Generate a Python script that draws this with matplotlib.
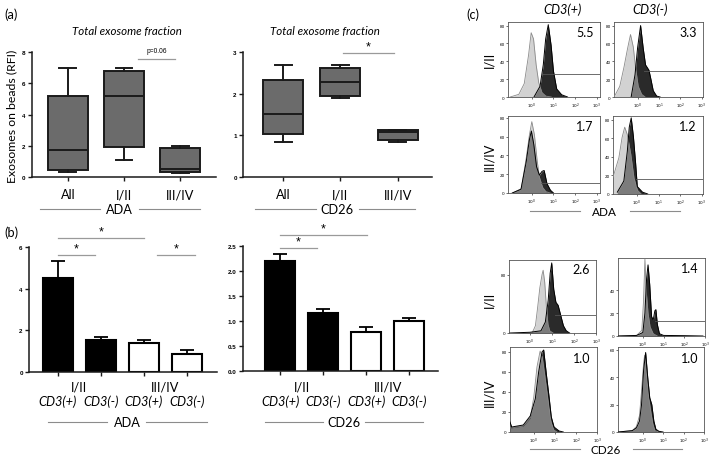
import numpy as np
import matplotlib
matplotlib.use('Agg')
import matplotlib.pyplot as plt
from matplotlib.lines import Line2D
import matplotlib.transforms as mtransforms

# ---------------- data ----------------
box_categories = ['All', 'I/II', 'III/IV']
ada_whislo = [0.30, 1.10, 0.28]
ada_q1 = [0.47, 1.90, 0.34]
ada_med = [1.73, 5.20, 0.51]
ada_q3 = [5.17, 6.80, 1.84]
ada_whishi = [7.00, 7.00, 1.98]
cd26_whislo = [0.85, 1.89, 0.84]
cd26_q1 = [1.04, 1.94, 0.89]
cd26_med = [1.52, 2.28, 1.09]
cd26_q3 = [2.32, 2.62, 1.14]
cd26_whishi = [2.70, 2.70, 1.14]

bar_labels = ['CD3(+)', 'CD3(-)', 'CD3(+)', 'CD3(-)']
bar_groups = ['I/II', 'III/IV']
ada_bar = [4.50, 1.53, 1.41, 0.88]
ada_err = [0.84, 0.16, 0.15, 0.20]
cd26_bar = [2.20, 1.17, 0.78, 1.00]
cd26_err = [0.15, 0.08, 0.11, 0.07]

hist_cols = ['CD3(+)', 'CD3(-)']
hist_rows = ['I/II', 'III/IV']
ada_mfi = ['5.5', '3.3', '1.7', '1.2']
cd26_mfi = ['2.6', '1.4', '1.0', '1.0']

# ADA histograms (log10 fluorescence, counts)
ada1_light_x = [-1.0, -0.6, -0.35, -0.15, -0.03, 0.08, 0.2, 0.32, 0.47, 0.65, 0.9]
ada1_light_y = [0, 3, 15, 47, 72, 65, 36, 16, 5, 1, 0]
ada1_dark_x = [0.1, 0.38, 0.53, 0.64, 0.76, 0.89, 1.0, 1.15, 1.38, 1.65]
ada1_dark_y = [0, 12, 36, 65, 81, 58, 29, 9, 2.5, 0]
ada1_gate = [0.46, 26]

ada2_light_x = [-1.1, -1.03, -0.83, -0.63, -0.47, -0.33, -0.2, -0.09, 0.03, 0.19, 0.35]
ada2_light_y = [0, 3, 12, 34, 54, 70, 56, 32, 12, 3, 0]
ada2_dark_x = [-0.3, -0.12, 0.0, 0.14, 0.26, 0.37, 0.53, 0.62, 0.73, 0.89, 1.05]
ada2_dark_y = [0, 25, 55, 80, 55, 36, 30, 20, 7, 1, 0]
ada2_gate = [0.31, 29.5]

ada3_light_x = [-0.9, -0.49, -0.26, -0.11, 0.0, 0.12, 0.25, 0.35, 0.5, 0.65, 0.85]
ada3_light_y = [0, 4.5, 37, 62, 76, 62, 34, 17, 6, 1.5, 0]
ada3_dark_x = [-0.9, -0.5, -0.26, -0.11, -0.02, 0.09, 0.22, 0.35, 0.47, 0.57, 0.7, 0.86, 1.0]
ada3_dark_y = [0, 4, 33, 57, 66, 52, 28, 19, 23, 24, 10, 3, 0]
ada3_gate = [0.43, 10.5]

ada4_light_x = [-1.1, -0.83, -0.68, -0.56, -0.44, -0.28, -0.13, 0.03, 0.2]
ada4_light_y = [18, 39, 61, 72, 64, 43, 17, 4, 0]
ada4_dark_x = [-0.9, -0.6, -0.44, -0.35, -0.26, -0.16, -0.06, 0.02, 0.26, 0.5]
ada4_dark_y = [2, 14, 46, 72, 82, 62, 34, 8, 2, 0]
ada4_gate = [-0.03, 16]

# CD26 histograms
cd1_light_x = [0.1, 0.25, 0.35, 0.45, 0.55, 0.6, 0.67, 0.75, 0.82, 0.9, 1.05]
cd1_light_y = [0, 10, 35, 62, 80, 86, 70, 35, 12, 3, 0]
cd1_dark_x = [-0.9, 0.0, 0.5, 0.7, 0.83, 0.92, 0.99, 1.08, 1.18, 1.28, 1.4, 1.52, 1.65, 1.8]
cd1_dark_y = [0, 1, 3, 15, 45, 82, 96, 60, 42, 38, 24, 10, 3, 0]
cd1_gate = [1.12, 24]

cd2_light_x = [-1.2, -0.3, -0.05, 0.03, 0.1, 0.16, 0.25, 0.35, 0.5, 0.7]
cd2_light_y = [0, 0.5, 5, 30, 67, 40, 20, 8, 2, 0]
cd2_dark_x = [-1.2, -0.3, 0.0, 0.1, 0.18, 0.25, 0.33, 0.42, 0.5, 0.58, 0.63, 0.7, 0.8, 1.0, 2.0, 2.9]
cd2_dark_y = [0, 0.5, 3, 20, 50, 62, 45, 17, 14, 22, 23, 10, 2, 0.5, 0.3, 0]
cd2_gate = [0.6, 13]

cd3_light_x = [-1.13, -0.5, -0.17, 0.0, 0.15, 0.3, 0.4, 0.55, 0.7, 0.82, 0.95, 1.1]
cd3_light_y = [4, 6, 14, 35, 65, 81, 75, 52, 28, 10, 2, 0]
cd3_dark_x = [-1.13, -1.1, -1.05, -0.5, -0.17, 0.07, 0.23, 0.39, 0.47, 0.6, 0.72, 0.83, 0.96, 1.2, 1.4]
cd3_dark_y = [10, 8, 5, 7, 16, 33, 60, 80, 82, 57, 36, 15, 5, 1, 0]

cd4_light_x = [-1.2, -0.5, -0.3, -0.15, -0.05, 0.05, 0.1, 0.2, 0.3, 0.4, 0.5, 0.6, 0.8]
cd4_light_y = [0, 1, 4, 12, 30, 50, 56, 40, 25, 15, 6, 1, 0]
cd4_dark_x = [-1.2, -0.5, -0.3, -0.15, -0.05, 0.05, 0.15, 0.25, 0.35, 0.45, 0.55, 0.65, 0.8, 1.0]
cd4_dark_y = [0, 1, 3, 8, 20, 45, 58, 40, 25, 20, 8, 2, 0.5, 0]

# ---------------- figure ----------------
W, H = 709, 456
fig = plt.figure(figsize=(W / 100, H / 100), dpi=100)
TXT = ['Lato', 'DejaVu Sans']
NUM = ['Liberation Sans', 'DejaVu Sans']
FS = 9.2


def ax_px(x0, y0, x1, y1):
    return fig.add_axes([x0 / W, 1 - y1 / H, (x1 - x0) / W, (y1 - y0) / H])


def fy(y):
    return 1 - y / H


def fx(x):
    return x / W


def ftext(x, y, s, **kw):
    kw.setdefault('family', TXT)
    fig.text(fx(x), fy(y), s, ha=kw.pop('ha', 'center'), va=kw.pop('va', 'center'), **kw)


def fline(x0, x1, y, color='#8c8c8c', lw=0.8):
    fig.add_artist(Line2D([fx(x0), fx(x1)], [fy(y), fy(y)], transform=fig.transFigure,
                          color=color, lw=lw))


def style_prism(ax):
    for s in ['top', 'right']:
        ax.spines[s].set_visible(False)
    for s in ['left', 'bottom']:
        ax.spines[s].set_linewidth(1.1)
        ax.spines[s].set_color('#1a1a1a')
    ax.tick_params(axis='both', direction='out', length=3, width=1.0, color='#1a1a1a')
    for lab in ax.get_yticklabels():
        lab.set_fontfamily(NUM)
        lab.set_fontweight('bold')
        lab.set_fontsize(4.5)
    ax.tick_params(axis='y', pad=1.5)


# ----- panel (a) -----
def boxpanel(rect, whislo, q1, med, q3, whishi, ymax, yticks, xlim):
    ax = ax_px(*rect)
    stats = []
    for i in range(len(box_categories)):
        stats.append(dict(whislo=whislo[i], q1=q1[i], med=med[i], q3=q3[i], whishi=whishi[i]))
    ax.bxp(stats, positions=[1, 2, 3], widths=0.7, patch_artist=True, showfliers=False,
           boxprops=dict(facecolor='#6b6b6b', edgecolor='#1a1a1a', linewidth=1.4),
           medianprops=dict(color='#1a1a1a', linewidth=1.4),
           whiskerprops=dict(color='#1a1a1a', linewidth=1.4),
           capprops=dict(color='#1a1a1a', linewidth=1.4), capwidths=0.3)
    ax.set_ylim(0, ymax)
    ax.set_xlim(*xlim)
    ax.set_yticks(yticks)
    ax.set_xticks([1, 2, 3])
    ax.set_xticklabels(box_categories, fontfamily=TXT, fontsize=FS)
    ax.tick_params(axis='x', length=0, pad=5)
    style_prism(ax)
    return ax


axA1 = boxpanel((32, 53, 216, 178), ada_whislo, ada_q1, ada_med, ada_q3, ada_whishi,
                8, [0, 2, 4, 6, 8], (0.36, 3.64))
axA2 = boxpanel((243, 53, 432, 178), cd26_whislo, cd26_q1, cd26_med, cd26_q3, cd26_whishi,
                3, [0, 1, 2, 3], (0.3, 3.6))

ftext(12, 116, 'Exosomes on beads (RFI)', rotation=90, fontsize=8.8)
ftext(127, 32, 'Total exosome fraction', fontsize=8.3, style='italic')
ftext(325, 32, 'Total exosome fraction', fontsize=8.3, style='italic')

axA1.plot([2.25, 2.91], [7.55, 7.55], color='#9a9a9a', lw=0.9, clip_on=False)
axA1.text(2.58, 7.85, 'p=0.06', ha='center', va='bottom', fontsize=4.8, family=NUM)
axA2.plot([2.04, 2.93], [2.98, 2.98], color='#9a9a9a', lw=0.9, clip_on=False)
axA2.text(2.48, 2.99, '*', ha='center', va='bottom', fontsize=9, family=NUM)

ftext(119, 210, 'ADA', fontsize=FS)
fline(40, 100, 210)
fline(139, 200, 210)
ftext(337, 210, 'CD26', fontsize=FS)
fline(255, 316, 210)
fline(359, 415, 210)


# ----- panel (b) -----
def barpanel(rect, vals, errs, ymax, yticks, ytl, xlim):
    ax = ax_px(*rect)
    pos = np.arange(len(vals))
    colors = ['black', 'black', 'white', 'white']
    ax.bar(pos, vals, width=0.7, color=colors, edgecolor='black', linewidth=1.5, zorder=2)
    ax.errorbar(pos, vals, yerr=[np.zeros(len(errs)), errs], fmt='none', ecolor='black',
                elinewidth=1.3, capsize=5, capthick=1.3, zorder=1)
    ax.set_ylim(0, ymax)
    ax.set_xlim(*xlim)
    ax.set_yticks(yticks)
    ax.set_yticklabels(ytl)
    ax.set_xticks(pos)
    ax.set_xticklabels([''] * len(vals))
    style_prism(ax)
    ax.tick_params(axis='x', length=3)
    return ax


axB1 = barpanel((29, 248, 217, 373), ada_bar, ada_err, 6, [0, 2, 4, 6],
                ['0', '2', '4', '6'], (-0.67, 3.7))
axB2 = barpanel((243, 247, 438, 372), cd26_bar, cd26_err, 2.5,
                [0, 0.5, 1.0, 1.5, 2.0, 2.5], ['0.0', '0.5', '1.0', '1.5', '2.0', '2.5'],
                (-0.86, 3.67))

for ax in (axB1, axB2):
    tr = mtransforms.blended_transform_factory(ax.transData, fig.transFigure)
    for i, g in enumerate(bar_groups):
        ax.text(2 * i + 0.5, fy(387), g, transform=tr, ha='center', va='center',
                fontsize=FS, family=TXT)
    for i, lab in enumerate(bar_labels):
        ax.text(i, fy(402), lab, transform=tr, ha='center', va='center',
                fontsize=FS, family=TXT, style='italic')

axB1.plot([0, 2], [6.43, 6.43], color='#9a9a9a', lw=0.9, clip_on=False)
axB1.text(1, 6.47, '*', ha='center', va='bottom', fontsize=9, family=NUM)
axB1.plot([0, 0.86], [5.62, 5.62], color='#9a9a9a', lw=0.9, clip_on=False)
axB1.text(0.43, 5.64, '*', ha='center', va='bottom', fontsize=9, family=NUM)
axB1.plot([2.3, 3.19], [5.62, 5.62], color='#9a9a9a', lw=0.9, clip_on=False)
axB1.text(2.75, 5.64, '*', ha='center', va='bottom', fontsize=9, family=NUM)

axB2.plot([0, 2.02], [2.72, 2.72], color='#9a9a9a', lw=0.9, clip_on=False)
axB2.text(1.0, 2.73, '*', ha='center', va='bottom', fontsize=9, family=NUM)
axB2.plot([0, 0.86], [2.46, 2.46], color='#9a9a9a', lw=0.9, clip_on=False)
axB2.text(0.43, 2.47, '*', ha='center', va='bottom', fontsize=9, family=NUM)

ftext(127, 423, 'ADA', fontsize=FS)
fline(48, 107, 423)
fline(146, 207, 423)
ftext(344, 423, 'CD26', fontsize=FS)
fline(265, 323, 423)
fline(365, 423, 423)


# ----- panel (c) -----
def histpanel(rect, lx, ly, dx, dy, xlim, ymax, yticks, label, gate=None):
    ax = ax_px(*rect)
    lxv = 10 ** np.array(lx)
    dxv = 10 ** np.array(dx)
    ax.fill_between(dxv, 0, dy, color='#2a2a2a', lw=0, zorder=1)
    ax.fill_between(lxv, 0, ly, color='#b4b4b4', alpha=0.6, lw=0, zorder=2)
    ax.plot(lxv, ly, color='#8a8a8a', lw=0.6, zorder=3)
    ax.plot(dxv, dy, color='black', lw=0.7, zorder=4)
    if gate is not None:
        ax.plot([10 ** gate[0], 10 ** xlim[1]], [gate[1], gate[1]], color='#555555',
                lw=0.6, zorder=5)
    ax.set_xscale('log')
    ax.set_xlim(10 ** xlim[0], 10 ** xlim[1])
    ax.set_ylim(0, ymax)
    ax.set_xticks([1, 10, 100, 1000])
    ax.set_xticklabels([r'$10^0$', r'$10^1$', r'$10^2$', r'$10^3$'])
    ax.xaxis.set_minor_locator(matplotlib.ticker.NullLocator())
    ax.set_yticks(yticks)
    ax.set_yticklabels([str(t) for t in yticks])
    ax.tick_params(axis='both', labelsize=3, length=1.5, width=0.4, pad=1)
    for s in ax.spines.values():
        s.set_linewidth(0.6)
        s.set_color('#555555')
    ax.text(0.93, 0.87, label, transform=ax.transAxes, ha='right', va='center',
            fontsize=9, family=TXT)
    return ax


histpanel((508, 23, 600, 98), ada1_light_x, ada1_light_y, ada1_dark_x, ada1_dark_y,
          (-1.1, 3.15), 84, [0, 20, 40, 60, 80], ada_mfi[0], ada1_gate)
histpanel((614, 23, 703, 98), ada2_light_x, ada2_light_y, ada2_dark_x, ada2_dark_y,
          (-1.1, 3.05), 84, [0, 20, 40, 60, 80], ada_mfi[1], ada2_gate)
histpanel((508, 117, 600, 194), ada3_light_x, ada3_light_y, ada3_dark_x, ada3_dark_y,
          (-1.1, 3.15), 82, [0, 20, 40, 60, 80], ada_mfi[2], ada3_gate)
histpanel((613, 117, 703, 195), ada4_light_x, ada4_light_y, ada4_dark_x, ada4_dark_y,
          (-1.1, 3.05), 84, [0, 20, 40, 60, 80], ada_mfi[3], ada4_gate)

histpanel((509, 261, 596, 334), cd1_light_x, cd1_light_y, cd1_dark_x, cd1_dark_y,
          (-0.95, 3.0), 100, [0, 80], cd26_mfi[0], cd1_gate)
histpanel((618, 259, 705, 337), cd2_light_x, cd2_light_y, cd2_dark_x, cd2_dark_y,
          (-1.2, 3.0), 68, [0, 20, 40], cd26_mfi[1], cd2_gate)
histpanel((510, 348, 597, 433), cd3_light_x, cd3_light_y, cd3_dark_x, cd3_dark_y,
          (-1.13, 3.0), 85, [0, 20, 40, 60, 80], cd26_mfi[2])
histpanel((618, 348, 704, 433), cd4_light_x, cd4_light_y, cd4_dark_x, cd4_dark_y,
          (-1.2, 3.0), 62, [0, 20, 40, 60], cd26_mfi[3])

ftext(562, 10, hist_cols[0], fontsize=FS, style='italic')
ftext(650, 10, hist_cols[1], fontsize=FS, style='italic')
ftext(489, 60, hist_rows[0], fontsize=FS, rotation=90)
ftext(489, 157, hist_rows[1], fontsize=FS, rotation=90)
ftext(489, 300, hist_rows[0], fontsize=FS, rotation=90)
ftext(489, 393, hist_rows[1], fontsize=FS, rotation=90)

ftext(604, 212.5, 'ADA', fontsize=8.5)
fline(530, 580, 212)
fline(630, 680, 212)
ftext(606, 450.5, 'CD26', fontsize=8.5)
fline(530, 580, 450)
fline(633, 682, 450)

# panel letters
ftext(4, 15, '(a)', fontsize=FS, ha='left')
ftext(4, 233, '(b)', fontsize=FS, ha='left')
ftext(466, 15, '(c)', fontsize=FS, ha='left')

fig.savefig('out.png', dpi=100)
